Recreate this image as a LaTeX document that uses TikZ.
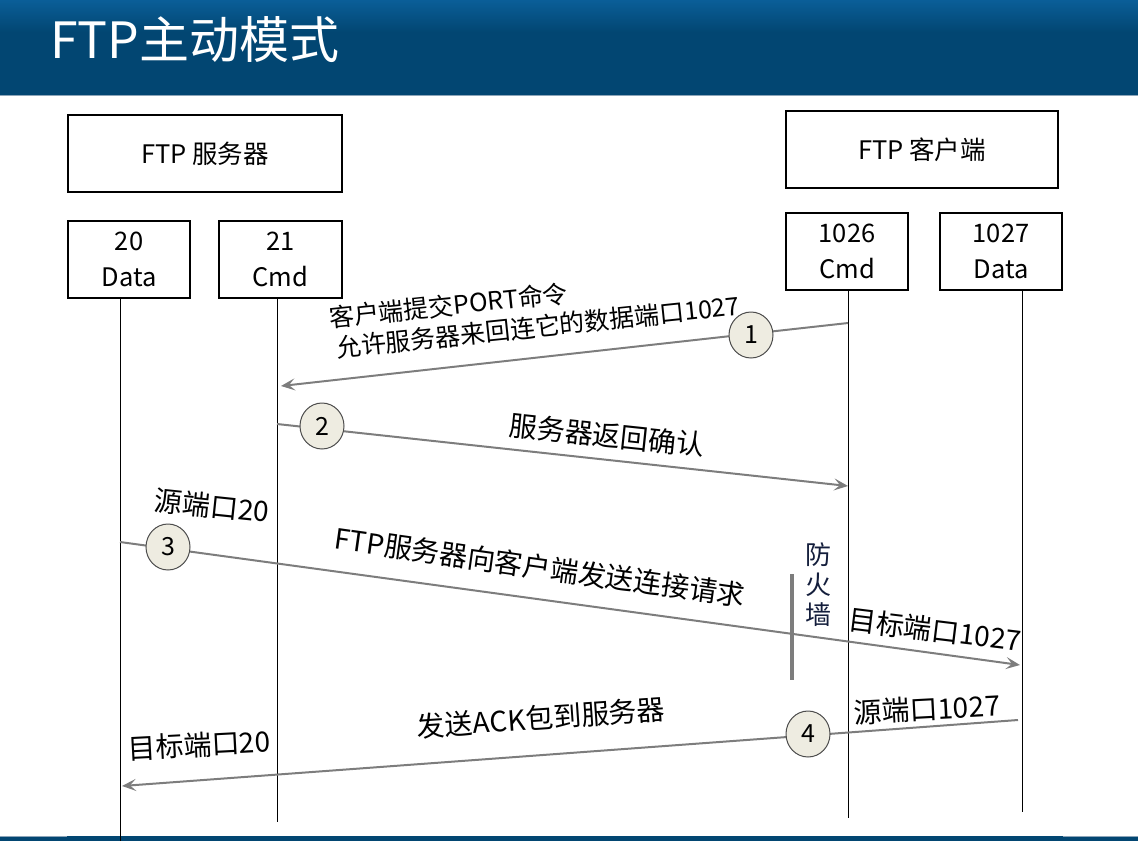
\documentclass[tikz,border=0pt]{standalone}
\usepackage{fontspec}
\setmainfont{Noto Sans CJK SC}
\usetikzlibrary{arrows.meta,shapes.geometric}
\definecolor{hdr}{RGB}{2,70,114}
\definecolor{hdrtop}{RGB}{10,94,152}
\definecolor{arr}{RGB}{125,125,125}
\definecolor{circ}{RGB}{238,236,225}
\definecolor{edge}{RGB}{140,165,185}
\begin{document}
\begin{tikzpicture}[x=1pt,y=-1pt,
  box/.style={draw, line width=1.4pt, inner sep=0pt, align=center,
    font=\fontsize{25.5}{36}\selectfont},
  bigbox/.style={box, minimum width=274pt, minimum height=77pt},
  portbox/.style={box, minimum width=122pt, minimum height=77pt},
  life/.style={line width=0.9pt, black},
  msg/.style={draw=arr, line width=2pt, -{Stealth[length=14pt,width=12pt,inset=6pt]}},
  num/.style={draw=black!70, fill=circ, line width=1pt, ellipse, minimum width=44pt,
    minimum height=46pt, inner sep=0pt, font=\fontsize{25}{25}\selectfont},
  lbl/.style={inner sep=0pt, font=\fontsize{28}{30}\selectfont},
  lblsmall/.style={inner sep=0pt, font=\fontsize{25}{30}\selectfont}]
\useasboundingbox (0,0) rectangle (1138,841);
% header
\fill[hdr] (0,0) rectangle (1138,95);
\shade[top color=hdrtop, bottom color=hdr] (0,0) rectangle (1138,32);
\draw[edge, line width=1.5pt] (0,95.5) -- (1138,95.5);
\node[anchor=west, inner sep=0pt, text=white, font=\fontsize{50}{50}\selectfont] (title) at (50,40) {FTP主动模式};
% footer
\fill[hdr] (0,836) rectangle (1138,841);
\fill[edge] (0,835.5) rectangle (67,837);
\fill[edge] (1063,835.5) rectangle (1138,837);
% boxes
\node[bigbox] (srv) at (205,153.5) {FTP 服务器};
\node[bigbox, minimum width=272pt] (cli) at (922,149.5) {FTP 客户端};
\node[portbox] (p20) at (129,259.5) {20\\Data};
\node[portbox, minimum width=123pt] (p21) at (280.5,259.5) {21\\Cmd};
\node[portbox] (p1026) at (847,251.5) {1026\\Cmd};
\node[portbox] (p1027) at (1001,251.5) {1027\\Data};
% lifeline ends
\coordinate (e20) at (120,841);
\coordinate (e21) at (277,822);
\coordinate (e1026) at (848,818);
\coordinate (e1027) at (1022,812);
\draw[life] (p20.south -| e20) -- (e20);
\draw[life] (p21.south -| e21) -- (e21);
\draw[life] (p1026.south -| e1026) -- (e1026);
\draw[life] (p1027.south -| e1027) -- (e1027);
% message points
\coordinate (m1s) at (848,323);
\coordinate (m1e) at (281,386);
\coordinate (m2s) at (277,424);
\coordinate (m2e) at (848,486);
\coordinate (m3s) at (120,542);
\coordinate (m3e) at (1020,665);
\coordinate (m4s) at (1018,720);
\coordinate (m4e) at (122,786);
% firewall
\coordinate (fwt) at (792,574);
\coordinate (fwb) at (792,680);
\draw[arr, line width=4pt] (fwt) -- (fwb);
\node[inner sep=0pt, align=center, font=\fontsize{26}{30}\selectfont, text={rgb,255:red,20;green,30;blue,60}] (fw) at (818,585) {防\\火\\墙};
% messages
\draw[msg] (m1s) -- (m1e);
\draw[msg] (m2s) -- (m2e);
\draw[msg] (m3s) -- (m3e);
\draw[msg] (m4s) -- (m4e);
% step circles
\node[num] (c1) at (751,335) {1};
\node[num] (c2) at (322,426) {2};
\node[num] (c3) at (168,547) {3};
\node[num] (c4) at (808,734) {4};
% labels
\node[lblsmall, anchor=west, rotate=6] (l1a) at (329,318) {客户端提交PORT命令};
\node[lblsmall, anchor=west, rotate=6] (l1b) at (336,348) {允许服务器来回连它的数据端口1027};
\node[lbl, rotate=-6] (l2) at (607,435) {服务器返回确认};
\node[lbl, rotate=-6] (l3a) at (212,506) {源端口20};
\node[lbl, rotate=-8] (l3b) at (540,567) {FTP服务器向客户端发送连接请求};
\node[lbl, rotate=-7] (l3c) at (935,630) {目标端口1027};
\node[lbl, rotate=3] (l4a) at (927,709) {源端口1027};
\node[lbl, rotate=4] (l4b) at (541,718) {发送ACK包到服务器};
\node[lbl, rotate=3] (l4c) at (199,745) {目标端口20};
\end{tikzpicture}
\end{document}
